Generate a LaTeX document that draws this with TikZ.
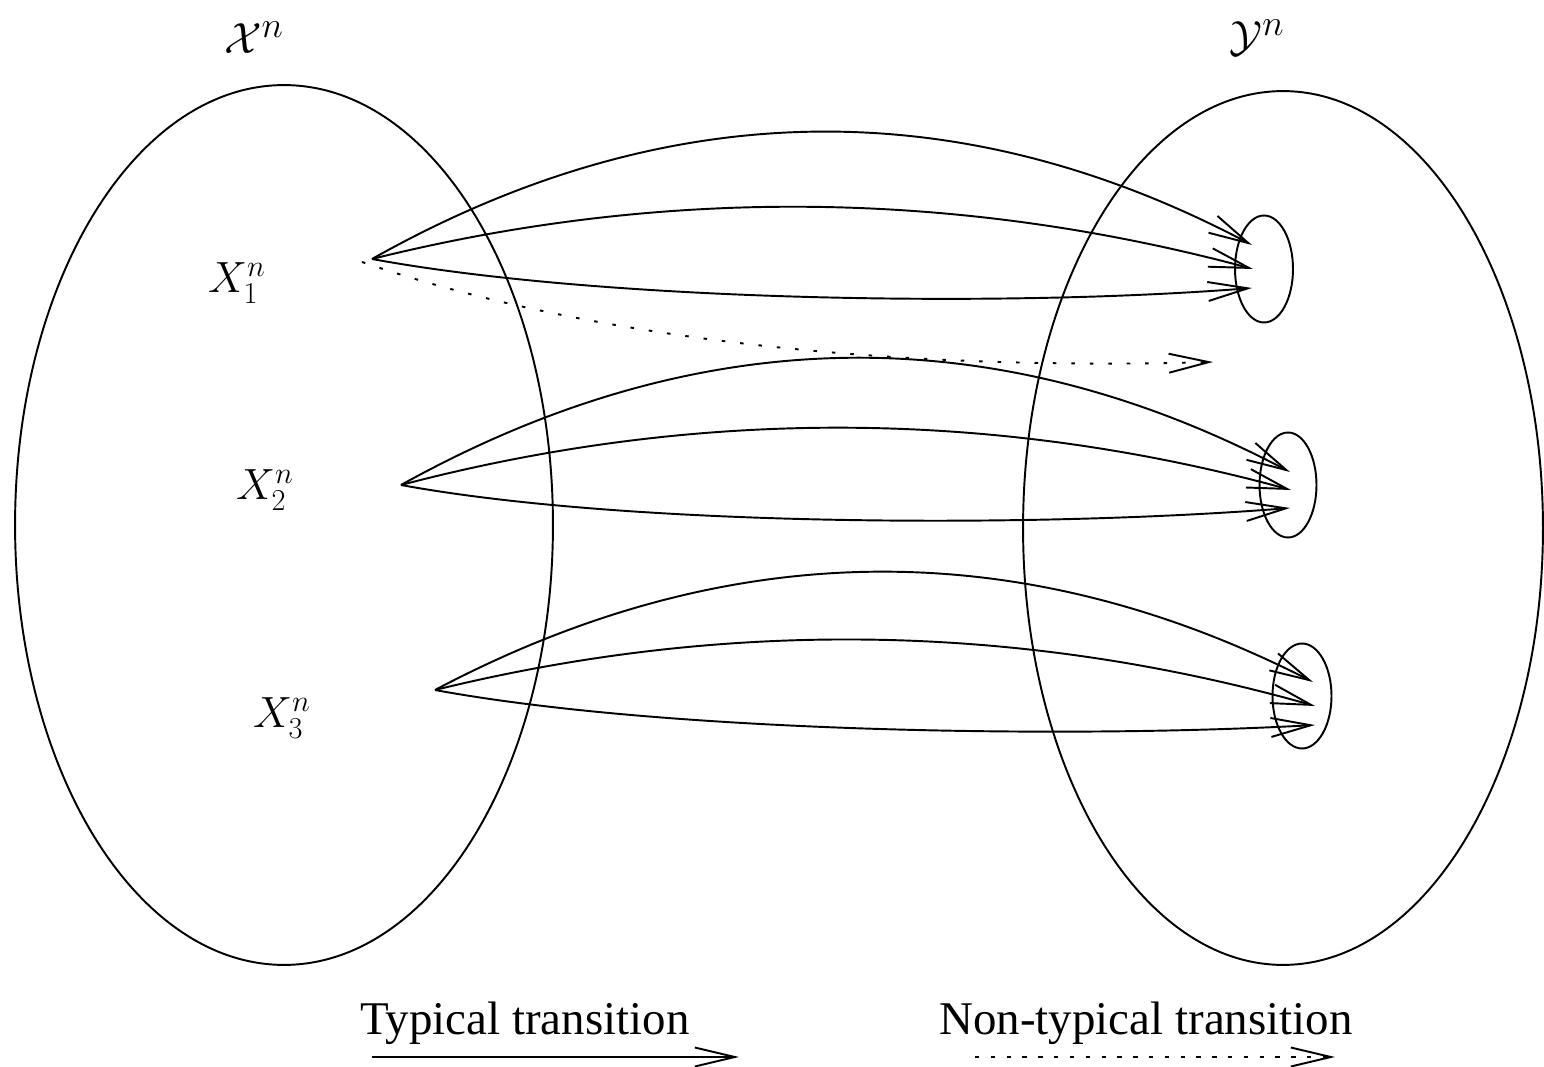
\documentclass[tikz,border=0pt]{standalone}
\usepackage{fontspec}
\setmainfont{Liberation Serif}
\usepackage{tikz}
\usetikzlibrary{shapes.geometric, arrows.meta, positioning}

\begin{document}
\begin{tikzpicture}[
    x=0.02cm, y=0.02cm, line width=1.1pt,
    set/.style={ellipse, draw, inner sep=0pt},
    lbl/.style={font=\fontsize{26.7}{32}\selectfont},
    biglbl/.style={font=\fontsize{30}{36}\selectfont},
    arr/.style={-{Straight Barb[length=0.8cm, width=0.38cm]}},
    dotarr/.style={arr, dash pattern=on 2.5pt off 6.5pt}
]
\useasboundingbox (0,0) rectangle (1544,1066);

% the two sets
\node[set, minimum width=10.76cm, minimum height=17.6cm] (Xset) at (284,541) {};
\node[set, minimum width=10.4cm, minimum height=17.48cm] (Yset) at (1283,538) {};
\node[biglbl] (Xn) at (254,1028) {$\mathcal{X}^n$};
\node[biglbl] (Yn) at (1257,1028) {$\mathcal{Y}^n$};

% typical images
\node[set, minimum width=1.16cm, minimum height=2.14cm] (E1) at (1264,797) {};
\node[set, minimum width=1.14cm, minimum height=2.1cm] (E2) at (1288,581) {};
\node[set, minimum width=1.18cm, minimum height=2.1cm] (E3) at (1302,370) {};

% input sequences
\node[lbl] (X1) at (237,783) {$X_1^n$};
\node[lbl] (X2) at (265,576) {$X_2^n$};
\node[lbl] (X3) at (282,348) {$X_3^n$};
\coordinate (S1) at (372,807);
\coordinate (S1d) at (362,804);
\coordinate (S2) at (401,581);
\coordinate (S3) at (435,376);

\coordinate (T1a) at (1252,821); \coordinate (T1b) at (1253,797);
\coordinate (T1c) at (1252,778); \coordinate (T1d) at (1213,704);
\coordinate (T2a) at (1290,594); \coordinate (T2b) at (1291,576);
\coordinate (T2c) at (1290,558);
\coordinate (T3a) at (1313,384); \coordinate (T3b) at (1315,360);
\coordinate (T3c) at (1315,341);

\draw[arr] (S1) .. controls (665,972) and (959,976) .. (T1a);
\draw[arr] (S1) .. controls (665,880) and (959,876) .. (T1b);
\draw[arr] (S1) .. controls (600,765) and (1000,758) .. (T1c);
\draw[dotarr, dash pattern=on 2pt off 8.5pt] (S1d) .. controls (560,736) and (850,694) .. (T1d);

\draw[arr] (S2) .. controls (698,746) and (994,750) .. (T2a);
\draw[arr] (S2) .. controls (698,659) and (995,657) .. (T2b);
\draw[arr] (S2) .. controls (630,539) and (1038,538) .. (T2c);

\draw[arr] (S3) .. controls (728,531) and (1021,533) .. (T3a);
\draw[arr] (S3) .. controls (728,448) and (1022,443) .. (T3b);
\draw[arr] (S3) .. controls (663,334) and (1063,327) .. (T3c);

% legend
\node[lbl] (typ) at (525,43) {Typical transition};
\node[lbl] (ntyp) at (1146,43) {Non-typical transition};
\coordinate (L1) at (372,9); \coordinate (L2) at (739,9);
\coordinate (L3) at (975,9); \coordinate (L4) at (1335,9);
\draw[arr] (L1) -- (L2);
\draw[dotarr] (L3) -- (L4);
\end{tikzpicture}
\end{document}
